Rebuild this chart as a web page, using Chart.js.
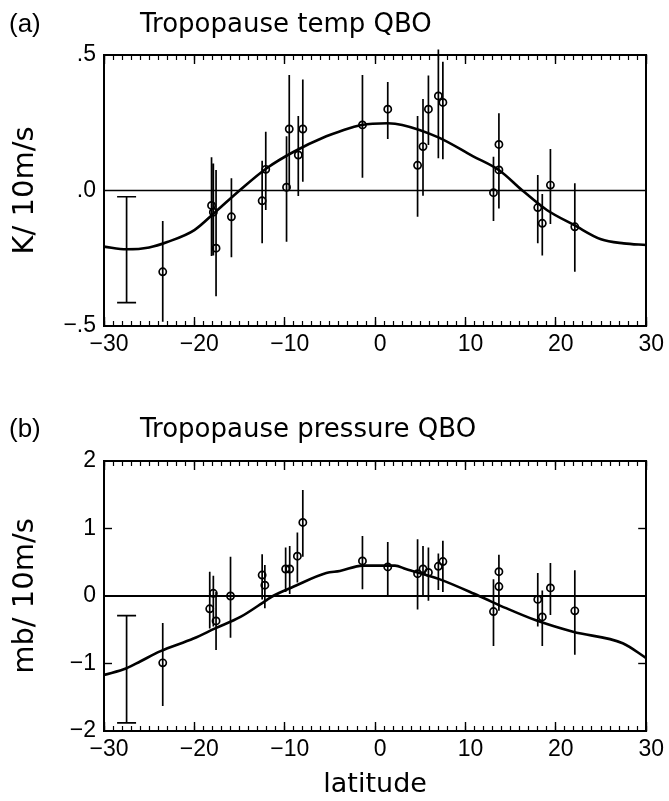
<!DOCTYPE html>
<html>
<head>
<meta charset="utf-8">
<script src="https://cdn.jsdelivr.net/npm/chart.js@4.4.1/dist/chart.umd.min.js"></script>
<style>
  body { margin: 0; background: #fff; }
  canvas { position: absolute; left: 0; }
</style>
</head>
<body>
<canvas id="chartA" width="669" height="400" style="top:0"></canvas>
<canvas id="chartB" width="669" height="401" style="top:400px"></canvas>
<script>
// latitude ticks (every degree, labelled every 10)
const xTicks = [];
for (let v = -30; v <= 30; v++) xTicks.push(v);
const xMajor = [-30, -20, -10, 0, 10, 20, 30];
const yTicksA = [-0.5, 0, 0.5];
const yTicksB = [-2, -1, 0, 1, 2];

// (a) tropopause temperature QBO, K per 10 m/s
const latA = [-23.5, -18.1, -17.9, -17.6, -15.9, -12.5, -12.1, -9.8, -9.5, -8.5, -8.0,
  -1.4, 1.4, 4.7, 5.3, 5.9, 7.0, 7.5, 13.1, 13.7, 13.7, 18.0, 18.5, 19.4, 22.1];
const valA = [-0.30, -0.055, -0.08, -0.213, -0.097, -0.038, 0.078, 0.012, 0.227, 0.131, 0.227,
  0.242, 0.30, 0.093, 0.162, 0.30, 0.349, 0.325, -0.008, 0.17, 0.076, -0.063, -0.121, 0.02, -0.134];
const loA = [-0.484, -0.242, -0.24, -0.39, -0.246, -0.195, -0.072, -0.189, 0.004, -0.02, 0.032,
  0.047, 0.19, -0.097, -0.019, 0.168, 0.119, 0.115, -0.113, -0.066, -0.06, -0.195, -0.24, -0.124, -0.30];
const hiA = [-0.113, 0.123, 0.10, 0.076, 0.045, 0.11, 0.217, 0.2, 0.426, 0.275, 0.41,
  0.426, 0.40, 0.275, 0.338, 0.424, 0.52, 0.475, 0.125, 0.285, 0.28, 0.057, -0.013, 0.153, 0.027];
// model curve (a)
const curveLatA = [-30, -27.5, -25, -23, -20, -17.7, -15, -12, -9, -5.4, -4, -1.5, 1.4, 3,
  7, 10.8, 13.8, 16.3, 19, 22, 25, 27.5, 30];
const curveValA = [-0.207, -0.217, -0.21, -0.19, -0.146, -0.08, 0.0, 0.082, 0.143, 0.2, 0.217, 0.242, 0.248, 0.242,
  0.196, 0.127, 0.073, 0.0, -0.072, -0.127, -0.18, -0.195, -0.201];
// typical error bar at -27.5
const refA = { lat: -27.5, lo: -0.414, hi: -0.023 };

// (b) tropopause pressure QBO, mb per 10 m/s
const latB = [-23.5, -18.3, -17.9, -17.6, -16.0, -12.5, -12.2, -9.9, -9.45, -8.6, -8.0,
  -1.4, 1.4, 4.7, 5.3, 5.9, 7.0, 7.5, 13.1, 13.7, 13.7, 18.0, 18.5, 19.4, 22.1];
const valB = [-0.99, -0.19, 0.04, -0.37, 0.0, 0.31, 0.16, 0.40, 0.40, 0.59, 1.09,
  0.52, 0.43, 0.33, 0.40, 0.35, 0.44, 0.51, -0.23, 0.36, 0.14, -0.05, -0.31, 0.12, -0.22];
const loB = [-1.63, -0.48, -0.45, -0.80, -0.62, -0.05, -0.18, 0.06, 0.03, 0.20, 0.58,
  0.10, 0.01, -0.20, -0.01, -0.07, 0.09, 0.06, -0.74, -0.22, -0.20, -0.45, -0.74, -0.28, -0.87];
const hiB = [-0.40, 0.36, 0.30, 0.06, 0.58, 0.62, 0.46, 0.72, 0.74, 0.94, 1.57,
  0.89, 0.80, 0.84, 0.74, 0.72, 0.63, 0.82, 0.25, 0.61, 0.58, 0.34, 0.08, 0.49, 0.38];
const curveLatB = [-30, -27.5, -26, -23.8, -20.1, -17.7, -14.9, -12, -11.3, -9, -5.4, -3.9, -1.4,
  2.2, 3.4, 7.1, 11.5, 14.5, 17.8, 21.9, 27.4, 30];
const curveValB = [-1.17, -1.07, -0.97, -0.82, -0.63, -0.48, -0.31, -0.06, 0.0, 0.14, 0.34, 0.37, 0.45,
  0.45, 0.40, 0.25, 0.0, -0.18, -0.36, -0.53, -0.70, -0.92];
const refB = { lat: -27.5, lo: -1.88, hi: -0.29 };

const tickFont = { family: 'Liberation Sans', size: 23 };

function minus(s) {
  return s.replace('-', '\u2212');
}

function pts(xs, ys) {
  return xs.map((x, i) => ({ x: x, y: ys[i] }));
}

// vertical bars separated by gaps
function errorBars(lat, lo, hi) {
  const out = [];
  lat.forEach((x, i) => {
    out.push({ x: x, y: lo[i] }, { x: x, y: hi[i] }, { x: x, y: null });
  });
  return out;
}

function refBar(r) {
  const w = 1.05;
  return [
    { x: r.lat, y: r.lo }, { x: r.lat, y: r.hi }, { x: r.lat, y: null },
    { x: r.lat - w, y: r.hi }, { x: r.lat + w, y: r.hi }, { x: r.lat, y: null },
    { x: r.lat - w, y: r.lo }, { x: r.lat + w, y: r.lo },
  ];
}

// panel letter and title
const panelText = {
  id: 'panelText',
  afterDraw(chart, args, opts) {
    const ctx = chart.ctx;
    ctx.save();
    ctx.fillStyle = '#000';
    ctx.textBaseline = 'alphabetic';
    ctx.textAlign = 'left';
    ctx.font = '26px "Liberation Sans"';
    ctx.fillText(opts.tag, 9, opts.baseline);
    ctx.font = '26px "DejaVu Sans"';
    ctx.fillText(opts.title, 140, opts.baseline);
    ctx.restore();
  },
};

// inward tick marks drawn by the axes themselves
function tickGrid(len, width, marks) {
  return {
    display: true,
    drawOnChartArea: false,
    drawTicks: true,
    tickLength: len,
    tickColor: (c) => (!marks || (c.tick && marks.includes(c.tick.value)) ? '#000' : 'rgba(0,0,0,0)'),
    tickWidth: width,
  };
}
const frameBorder = { display: true, color: '#000', width: 2 };

// extra axis carrying only the longer major x ticks
function majorAxis(yId, yVal, len) {
  return {
    type: 'linear',
    position: { [yId]: yVal },
    display: true,
    min: -30,
    max: 30,
    afterBuildTicks: (s) => { s.ticks = xMajor.map((v) => ({ value: v })); },
    afterFit: (s) => { s.height = 0; },
    grid: tickGrid(len, 1.4),
    border: { display: false },
    ticks: { display: false },
  };
}

function makeChart(id, cfg) {
  return new Chart(document.getElementById(id), {
    type: 'line',
    data: {
      datasets: [
        {
          data: [{ x: -30, y: 0 }, { x: 30, y: 0 }],
          borderColor: '#000',
          borderWidth: cfg.zeroWidth,
          pointRadius: 0,
        },
        {
          data: pts(cfg.curveLat, cfg.curveVal),
          borderColor: '#000',
          borderWidth: 2.6,
          pointRadius: 0,
          cubicInterpolationMode: 'monotone',
        },
        {
          data: errorBars(cfg.lat, cfg.lo, cfg.hi).concat([{ x: 0, y: null }], refBar(cfg.ref)),
          borderColor: '#000',
          borderWidth: 1.7,
          pointRadius: 0,
          spanGaps: false,
          clip: 8,
        },
        {
          data: pts(cfg.lat, cfg.val),
          showLine: false,
          pointStyle: 'circle',
          pointRadius: 3.6,
          pointBorderWidth: 1.7,
          pointBorderColor: '#000',
          pointBackgroundColor: 'rgba(0,0,0,0)',
        },
      ],
    },
    options: {
      responsive: false,
      animation: false,
      events: [],
      layout: { padding: { top: cfg.top, right: 22, bottom: 0, left: 0 } },
      plugins: {
        legend: { display: false },
        tooltip: { enabled: false },
        panelText: { tag: cfg.tag, title: cfg.title, baseline: cfg.titleBaseline },
      },
      scales: {
        x: {
          type: 'linear',
          position: 'bottom',
          min: -30,
          max: 30,
          afterBuildTicks: (s) => { s.ticks = xTicks.map((v) => ({ value: v })); },
          afterFit: (s) => { s.height = cfg.xHeight; },
          grid: tickGrid(-5, 1.2),
          border: frameBorder,
          ticks: {
            padding: 10,
            labelOffset: 5,
            maxRotation: 0,
            autoSkip: false,
            color: '#000',
            font: tickFont,
            callback: (v) => (v % 10 === 0 ? minus(String(v)) : ''),
          },
          title: {
            display: !!cfg.xTitle,
            text: cfg.xTitle || '',
            color: '#000',
            font: { family: 'DejaVu Sans', size: 27 },
            padding: { top: 0, bottom: 0 },
          },
        },
        xTop: {
          type: 'linear',
          position: 'top',
          display: true,
          min: -30,
          max: 30,
          afterBuildTicks: (s) => { s.ticks = xTicks.map((v) => ({ value: v })); },
          afterFit: (s) => { s.height = 0; },
          grid: tickGrid(-5, 1.2),
          border: frameBorder,
          ticks: { display: false },
        },
        xMajorBottom: majorAxis('y', cfg.yMin, -9),
        xMajorTop: majorAxis('y', cfg.yMax, 9),
        y: {
          position: 'left',
          min: cfg.yMin,
          max: cfg.yMax,
          afterBuildTicks: (s) => { s.ticks = cfg.yTicks.map((v) => ({ value: v })); },
          afterFit: (s) => { s.width = 104; },
          grid: tickGrid(-8, 1.4, cfg.yMarks),
          border: frameBorder,
          ticks: {
            padding: 16,
            color: '#000',
            font: tickFont,
            callback: cfg.yFormat,
          },
          title: {
            display: true,
            text: cfg.yTitle,
            color: '#000',
            font: { family: 'DejaVu Sans', size: 29 },
            padding: { top: 8, bottom: 0 },
          },
        },
        yRight: {
          position: 'right',
          display: true,
          min: cfg.yMin,
          max: cfg.yMax,
          afterBuildTicks: (s) => { s.ticks = cfg.yTicks.map((v) => ({ value: v })); },
          afterFit: (s) => { s.width = 0; },
          grid: tickGrid(-8, 1.4, cfg.yMarks),
          border: frameBorder,
          ticks: { display: false },
        },
      },
    },
    plugins: [panelText],
  });
}

makeChart('chartA', {
  lat: latA, val: valA, lo: loA, hi: hiA, ref: refA,
  curveLat: curveLatA, curveVal: curveValA,
  yMin: -0.5, yMax: 0.5, yTicks: yTicksA, yMarks: [],
  yFormat: (v) => minus(v.toFixed(1).replace('0.', '.')),
  yTitle: 'K/ 10m/s',
  tag: '(a)', title: 'Tropopause temp QBO', titleBaseline: 32,
  top: 55, xHeight: 74, zeroWidth: 1.5,
});

makeChart('chartB', {
  lat: latB, val: valB, lo: loB, hi: hiB, ref: refB,
  curveLat: curveLatB, curveVal: curveValB,
  yMin: -2, yMax: 2, yTicks: yTicksB, yMarks: [-1, 1],
  yFormat: (v) => minus(String(v)),
  yTitle: 'mb/ 10m/s',
  tag: '(b)', title: 'Tropopause pressure QBO', titleBaseline: 37,
  top: 61, xHeight: 70, xTitle: 'latitude', zeroWidth: 2,
});
</script>
</body>
</html>
